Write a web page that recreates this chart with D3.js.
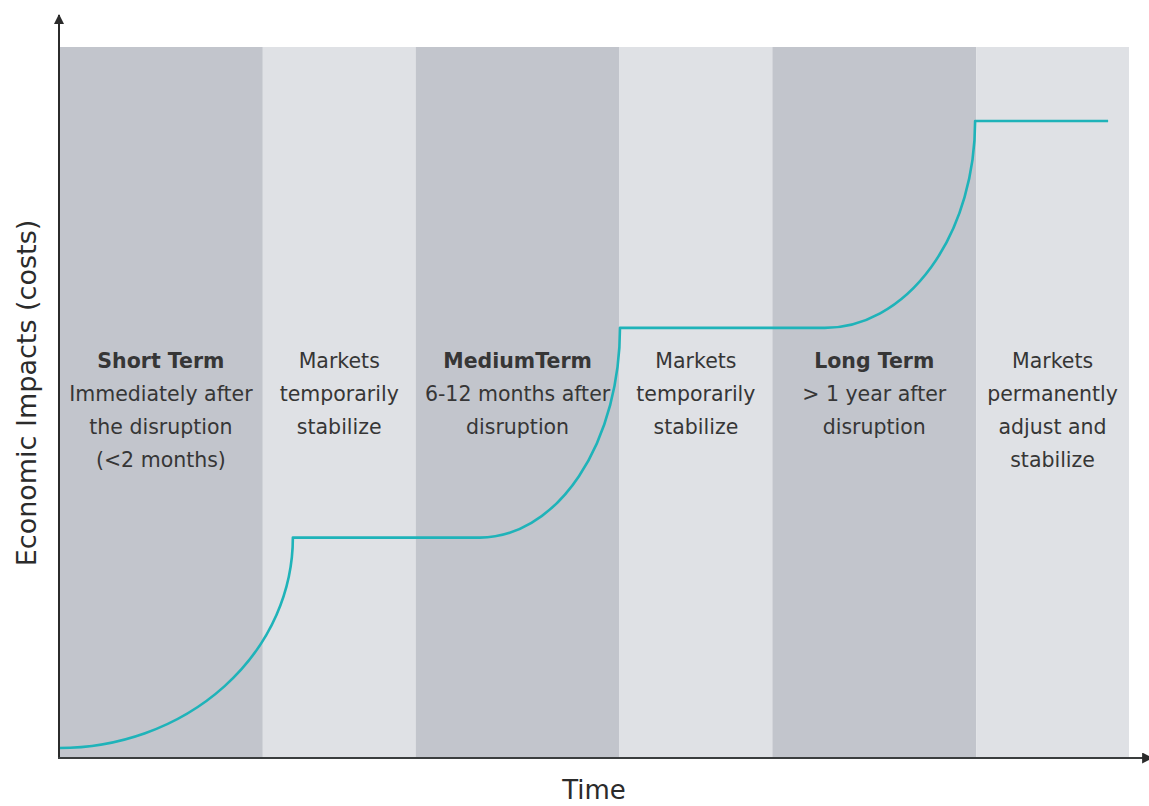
<!DOCTYPE html>
<html>
<head>
<meta charset="utf-8">
<script src="https://cdn.jsdelivr.net/npm/d3@7/dist/d3.min.js"></script>
<style>
  html, body { margin: 0; padding: 0; background: #ffffff; }
  svg { display: block; }
</style>
</head>
<body>
<svg id="chart" width="1149" height="806"></svg>
<script>
// Phases along the time axis (relative durations) and their shading
const phaseNames = ["short", "calm1", "medium", "calm2", "long", "final"];
const phaseLengths = [4, 3, 4, 3, 4, 3];
const phaseShades = ["dark", "light", "dark", "light", "dark", "light"];

// Text shown in each phase: bold title (if any) followed by plain lines
const phaseTitles = ["Short Term", "", "MediumTerm", "", "Long Term", ""];
const phaseLines = [
  ["Immediately after", "the disruption", "(<2 months)"],
  ["Markets", "temporarily", "stabilize"],
  ["6-12 months after", "disruption"],
  ["Markets", "temporarily", "stabilize"],
  ["> 1 year after", "disruption"],
  ["Markets", "permanently", "adjust and", "stabilize"]
];

// Cost path: each step rises from (riseStart, fromLevel) to (riseEnd, toLevel)
const riseStart = [0, 8.26, 15.03];
const riseEnd = [4.59, 11.01, 17.98];
const levels = [1.4, 31, 60.5, 89.6];
const pathEnd = 20.59;

const svg = d3.select("#chart");
const mLeft = 59, mRight = 1129, mTop = 47, mBottom = 758;

const totalTime = d3.sum(phaseLengths);
const x = d3.scaleLinear().domain([0, totalTime]).range([mLeft, mRight]);
const y = d3.scaleLinear().domain([0, 100]).range([mBottom, mTop]);

const starts = Array.from(d3.cumsum([0].concat(phaseLengths.slice(0, -1))));
const phases = phaseNames.map((n, i) => ({
  name: n, start: starts[i], end: starts[i] + phaseLengths[i],
  shade: phaseShades[i], title: phaseTitles[i], lines: phaseLines[i]
}));

const shadeColor = { dark: "#c2c5cc", light: "#dfe1e5" };

// Background phase bands
svg.append("g").selectAll("rect")
  .data(phases)
  .join("rect")
  .attr("x", d => x(d.start))
  .attr("y", y(100))
  .attr("width", d => x(d.end) - x(d.start))
  .attr("height", y(0) - y(100))
  .attr("fill", d => shadeColor[d.shade]);

// Phase descriptions
const textG = svg.append("g")
  .attr("font-family", "'DejaVu Sans', Verdana, sans-serif")
  .attr("font-size", 20.5)
  .attr("fill", "#363636")
  .attr("text-anchor", "middle");

phases.forEach(p => {
  const cx = (x(p.start) + x(p.end)) / 2;
  const rows = (p.title ? [{ t: p.title, b: true }] : [])
    .concat(p.lines.map(t => ({ t, b: false })));
  textG.append("text")
    .selectAll("tspan")
    .data(rows)
    .join("tspan")
    .attr("x", cx)
    .attr("y", (d, i) => 368 + i * 33)
    .attr("font-weight", d => d.b ? "bold" : "normal")
    .text(d => d.t);
});

// Cost curve: quarter-ellipse rises joined by flat plateaus
function costPath() {
  let d = `M${x(riseStart[0])},${y(levels[0])}`;
  riseStart.forEach((s, i) => {
    const x0 = x(s), y0 = y(levels[i]);
    const x1 = x(riseEnd[i]), y1 = y(levels[i + 1]);
    d += `L${x0},${y0}`;
    // elliptical arc from a horizontal tangent to a vertical tangent
    d += `A${x1 - x0},${y0 - y1},0,0,0,${x1},${y1}`;
  });
  d += `L${x(pathEnd)},${y(levels[levels.length - 1])}`;
  return d;
}

svg.append("path")
  .attr("d", costPath())
  .attr("fill", "none")
  .attr("stroke", "#1fb3b9")
  .attr("stroke-width", 2.6)
  .attr("stroke-linejoin", "round");

// Axes with arrowheads
const defs = svg.append("defs");
defs.append("marker")
  .attr("id", "arrow")
  .attr("viewBox", "0 0 10 10")
  .attr("refX", 9).attr("refY", 5)
  .attr("markerWidth", 5).attr("markerHeight", 5)
  .attr("orient", "auto")
  .append("path")
  .attr("d", "M0,0L10,5L0,10Z")
  .attr("fill", "#2b2b2b");

svg.append("line")
  .attr("x1", x(0)).attr("y1", y(0) + 1)
  .attr("x2", x(0)).attr("y2", 15)
  .attr("stroke", "#2b2b2b").attr("stroke-width", 2)
  .attr("marker-end", "url(#arrow)");

svg.append("line")
  .attr("x1", x(0) - 1).attr("y1", y(0))
  .attr("x2", 1152).attr("y2", y(0))
  .attr("stroke", "#3a3d3e").attr("stroke-width", 2.2)
  .attr("marker-end", "url(#arrow)");

// Axis titles
svg.append("text")
  .attr("x", 594)
  .attr("y", 799)
  .attr("text-anchor", "middle")
  .attr("font-family", "'DejaVu Sans', Verdana, sans-serif")
  .attr("font-size", 26)
  .attr("fill", "#2b2b2b")
  .text("Time");

svg.append("text")
  .attr("transform", `translate(36, 393) rotate(-90)`)
  .attr("text-anchor", "middle")
  .attr("font-family", "'DejaVu Sans', Verdana, sans-serif")
  .attr("font-size", 27)
  .attr("fill", "#2b2b2b")
  .text("Economic Impacts (costs)");
</script>
</body>
</html>
